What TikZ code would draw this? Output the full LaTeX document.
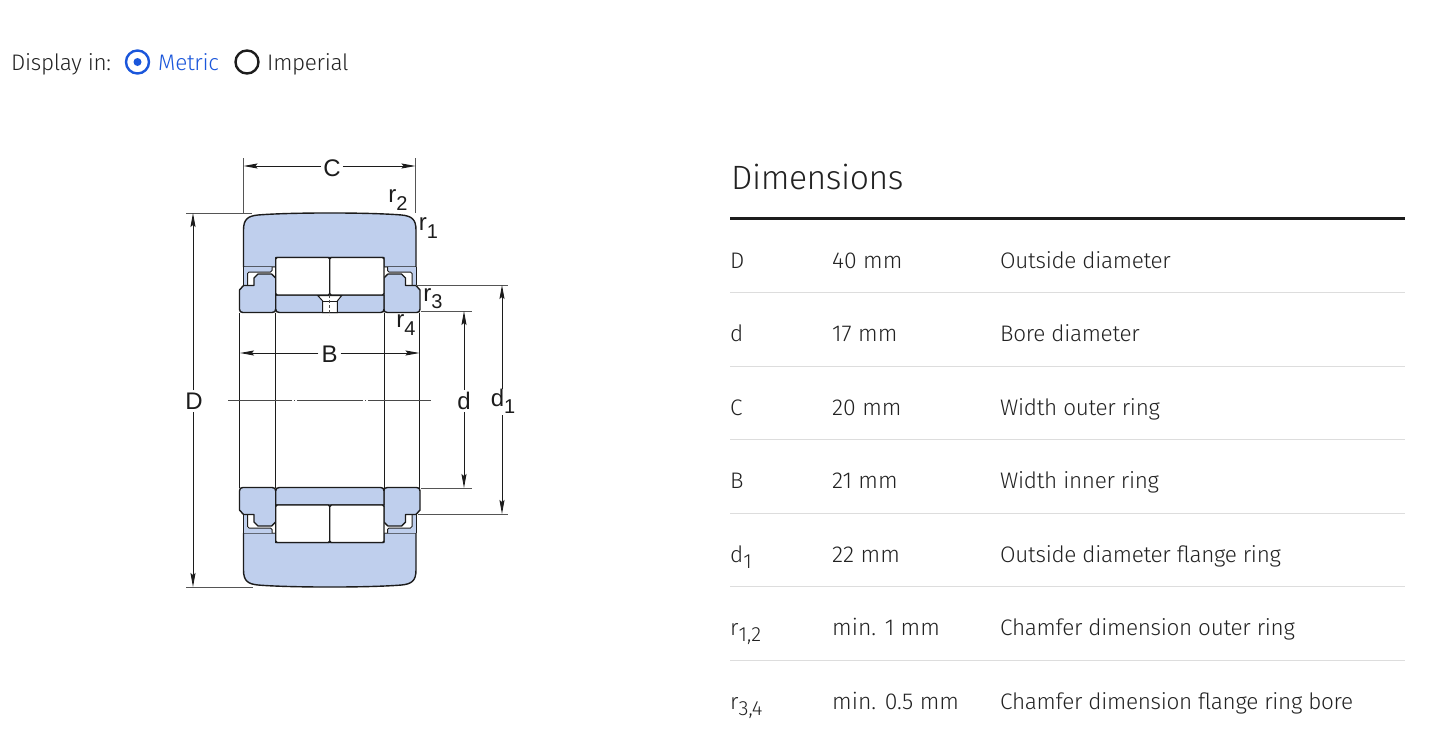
\documentclass[tikz,border=0pt]{standalone}
\usepackage{fontspec}
\setmainfont[LetterSpace=-1.3]{Fira Sans Light}
\newfontfamily\valfont{Fira Sans Light}
\newfontfamily\dimfont{Liberation Sans}
\usetikzlibrary{arrows.meta}
\definecolor{ringblue}{HTML}{BFCFED}
\definecolor{inkdark}{HTML}{1C1C1C}
\definecolor{txt}{HTML}{222222}
\definecolor{metricblue}{HTML}{1A56DB}
\definecolor{rulegrey}{HTML}{DDDDDD}
\newcommand{\lowered}[1]{\raisebox{-0.28em}{\valfont\fontsize{20.5}{21}\selectfont #1}}
\newcommand{\dimlow}[1]{\raisebox{-0.3em}{\fontsize{20}{20}\selectfont #1}}
\tikzset{
  part/.style={draw=inkdark,line width=1.4pt,fill=ringblue,line join=round},
  rollerbox/.style={draw=inkdark,line width=1.4pt,fill=white,rounded corners=1.5pt},
  edgeline/.style={draw=inkdark,line width=1.2pt},
  extline/.style={draw=inkdark!75,line width=0.9pt},
  dimline/.style={draw=inkdark,line width=0.9pt,-{Stealth[length=14pt,width=5pt,inset=2pt]}},
  centerline/.style={draw=inkdark!80,line width=0.7pt},
  dimlabel/.style={font=\dimfont\fontsize{24}{24}\selectfont,text=inkdark,inner sep=0pt},
  cell/.style={anchor=base west,inner sep=0pt,text=txt,font=\fontsize{22.5}{23}\selectfont},
  valcell/.style={anchor=base west,inner sep=0pt,text=txt,font=\valfont\fontsize{23}{23}\selectfont},
  rowrule/.style={draw=rulegrey,line width=1pt},
  radio/.style={circle,minimum size=23pt,inner sep=0pt,line width=2.4pt}
}
\newcommand{\flangeside}{%
  % cage
  \path[fill=ringblue] (243.5,267) -- (272,267) -- (272,272) -- (247.5,272) -- (247.5,286) -- (243.5,286) -- cycle;
  \path[fill=white] (247.5,272) -- (272,272) -- (272,267.5) -- (275.7,267.5) -- (275.7,278) -- (254,286) -- (247.5,286) -- cycle;
  \draw[inkdark,line width=1pt,rounded corners=1.5pt] (247.5,286) -- (247.5,272) -- (272,272) -- (272,267);
  \draw[inkdark,line width=1pt] (243.5,267) -- (243.5,286);
  % flange ring
  \path[part] (243.5,285.5) -- (254,285.5) -- (254,278) -- (258,274) -- (271.5,274) -- (275.7,278)
    -- (275.7,309) .. controls (275.7,311.5) and (274.5,312.5) .. (272,312.5)
    -- (243,312.5) .. controls (240.5,312.5) and (239.5,311.5) .. (239.5,309)
    -- (239.5,290) -- cycle;
}
\newcommand{\bearinghalf}{%
  \path[part] (243.5,267) -- (243.5,230) .. controls (243.5,219) and (248,216) .. (258,215)
    .. controls (290,212.3) and (369.5,212.3) .. (401.5,215)
    .. controls (411.5,216) and (416,219) .. (416,230) -- (416,267) -- (384,267) -- (384,257.5)
    -- (275.7,257.5) -- (275.7,267) -- cycle;
  \flangeside
  \begin{scope}[shift={(659.5,0)},xscale=-1]\flangeside\end{scope}
  \path[part] (275.7,295) -- (384,295) -- (384,309) .. controls (384,311.5) and (383,312.5) .. (380.5,312.5)
    -- (279.5,312.5) .. controls (277,312.5) and (275.7,311.5) .. (275.7,309) -- cycle;
  \path[rollerbox] (275.7,257.5) rectangle (329.75,295);
  \path[rollerbox] (329.75,257.5) rectangle (384,295);
}
\begin{document}
\begin{tikzpicture}[x=1pt,y=-1pt]
\useasboundingbox[fill=white] (0,0) rectangle (1432,755);

% Display selector
\node[cell] (displaylabel) at (11,70) {Display in:};
\node[radio,draw=metricblue] (metricradio) at (137.5,62) {};
\node[circle,fill=metricblue,minimum size=8pt,inner sep=0pt] (metricdot) at (137.5,62) {};
\node[cell,text=metricblue] (metriclabel) at (158,70) {Metric};
\node[radio,draw=inkdark] (imperialradio) at (247,62) {};
\node[cell] (imperiallabel) at (267,70) {Imperial};

% Bearing
\bearinghalf
\begin{scope}[shift={(0,800)},yscale=-1]\bearinghalf\end{scope}
% fixing hole
\path[fill=white,draw=inkdark,line width=1pt] (322.7,312.5) -- (322.7,301) -- (317.7,295.5) -- (341.8,295.5) -- (337.3,301) -- (337.3,312.5) -- cycle;
\draw[inkdark,line width=0.9pt] (322.7,301) -- (337.3,301);
\draw[centerline,dashed,dash pattern=on 3pt off 2pt] (329.75,295) -- (329.75,315);
\foreach \xx in {239.5,275.5,384.5,419.5}{\draw[edgeline] (\xx,312.5) -- (\xx,487.5);}

% Centre line
\coordinate (cl) at (228,400);
\coordinate (cr) at (431,400);
\draw[centerline,dash pattern=on 64pt off 2pt on 1pt off 2pt on 66pt off 2pt on 1pt off 2pt on 66pt] (cl) -- (cr);

% Dimensions
\node[dimlabel] (C) at (332,168.5) {C};
\coordinate (Cl) at (243.5,166); \coordinate (Cr) at (415.5,166);
\draw[extline] (243.5,158) -- (243.5,213);
\draw[extline] (415.5,158) -- (415.5,213);
\draw[dimline] (C.west) ++(-2,-2.5) -- (Cl);
\draw[dimline] (C.east) ++(2,-2.5) -- (Cr);

\node[dimlabel] (B) at (329.5,354.5) {B};
\coordinate (Bl) at (240,353); \coordinate (Br) at (419.5,353);
\draw[dimline] (B.west) ++(-3,-1.5) -- (Bl);
\draw[dimline] (B.east) ++(3,-1.5) -- (Br);

\node[dimlabel] (D) at (194,401) {D};
\coordinate (Dt) at (193,213); \coordinate (Db) at (193,587);
\draw[extline] (186,213) -- (252,213);
\draw[extline] (186,587) -- (253,587);
\draw[dimline] (193,390) -- (Dt);
\draw[dimline] (193,412) -- (Db);

\node[dimlabel] (dd) at (464,401) {d};
\coordinate (dt) at (464,311); \coordinate (db) at (464,488);
\draw[extline] (421,311) -- (472,311);
\draw[extline] (421,488) -- (472,488);
\draw[dimline] (dd.north) ++(0,-2) -- (dt);
\draw[dimline] (dd.south) ++(0,2) -- (db);

\node[dimlabel] (done) at (503,401) {d\dimlow{1}};
\coordinate (d1t) at (502,285); \coordinate (d1b) at (502,514);
\draw[extline] (416,285) -- (508,285);
\draw[extline] (418,514) -- (508,514);
\draw[dimline] (502,389) -- (d1t);
\draw[dimline] (502,415) -- (d1b);

\node[dimlabel] (r2) at (398,200) {r\dimlow{2}};
\node[dimlabel] (r1) at (428.5,228) {r\dimlow{1}};
\node[dimlabel] (r3) at (433,299) {r\dimlow{3}};
\node[dimlabel] (r4) at (406,325) {r\dimlow{4}};

% Table
\node[cell,font=\fontsize{33.7}{35}\selectfont] (title) at (731,189) {Dimensions};
\coordinate (ruleL) at (730,218); \coordinate (ruleR) at (1405,218);
\draw[draw=inkdark,line width=3pt] (ruleL) -- (ruleR);
\foreach \yy in {292.5,366,439.5,513,586.5,660}{\draw[rowrule] (730,\yy) -- (1405,\yy);}

\node[cell] (k1) at (730,268) {D};
\node[valcell] (v1) at (832,268) {40 mm};
\node[cell] (t1) at (1000,268) {Outside diameter};
\node[cell] (k2) at (730,341) {d};
\node[valcell] (v2) at (832,341) {17 mm};
\node[cell] (t2) at (1000,341) {Bore diameter};
\node[cell] (k3) at (730,415) {C};
\node[valcell] (v3) at (832,415) {20 mm};
\node[cell] (t3) at (1000,415) {Width outer ring};
\node[cell] (k4) at (730,488) {B};
\node[valcell] (v4) at (832,488) {21 mm};
\node[cell] (t4) at (1000,488) {Width inner ring};
\node[cell] (k5) at (730,562) {d\lowered{1}};
\node[valcell] (v5) at (832,562) {22 mm};
\node[cell] (t5) at (1000,562) {Outside diameter flange ring};
\node[cell] (k6) at (730,635) {r\lowered{1,2}};
\node[valcell] (v6) at (832,635) {min. 1 mm};
\node[cell] (t6) at (1000,635) {Chamfer dimension outer ring};
\node[cell] (k7) at (730,709) {r\lowered{3,4}};
\node[valcell] (v7) at (832,709) {min. 0.5 mm};
\node[cell] (t7) at (1000,709) {Chamfer dimension flange ring bore};
\end{tikzpicture}
\end{document}
